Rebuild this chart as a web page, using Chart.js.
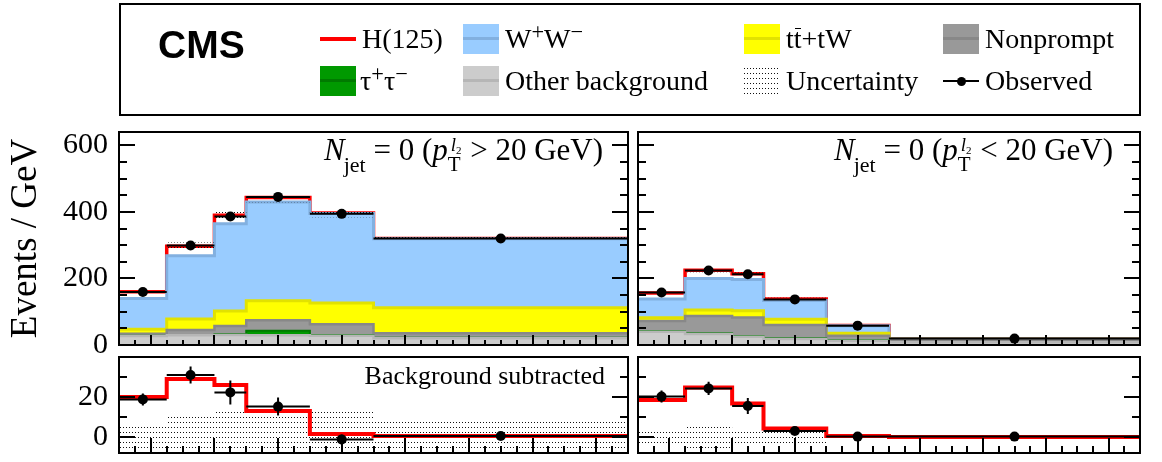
<!DOCTYPE html>
<html>
<head>
<meta charset="utf-8">
<title>m_ll distributions, N_jet = 0</title>
<script src="https://cdn.jsdelivr.net/npm/chart.js@4.4.1/dist/chart.umd.min.js"></script>
<style>
  html, body { margin: 0; padding: 0; background: #fff; }
  #fig { position: relative; width: 1162px; height: 462px; overflow: hidden; background: #fff;
         font-family: "Liberation Serif", "Times New Roman", serif; color: #000; }
  #fig canvas.plot { position: absolute; left: 0; top: 0; }
  .abs { position: absolute; white-space: nowrap; line-height: 1; }
  #legendBox { position: absolute; left: 119px; top: 3px; width: 1022px; height: 113px;
               border: 2px solid #000; box-sizing: border-box; }
  #cms { font-family: "Liberation Sans", Arial, sans-serif; font-weight: bold; font-size: 39px; left: 158px; top: 25px; }
  .legText { font-size: 28px; }
  .legText sup { font-size: 0.8em; line-height: 0; vertical-align: 0.4em; }
  .tbar { position: relative; }
  .tbar::before { content: ""; position: absolute; left: 1px; right: 1px; top: 5px; border-top: 1.5px solid #000; }
  .swatch { position: absolute; width: 36px; height: 30px; }
  .swatch .mid { position: absolute; left: 0; right: 0; top: 13px; height: 3px; }
  .ann { font-size: 31px; }
  .ann .jet { font-size: 22px; position: relative; top: 12px; margin-left: -1px; }
  .ann .subT { font-size: 21px; position: relative; top: 11px; }
  .ann .supL { font-size: 19px; position: relative; top: -9px; margin-left: -10px; margin-right: 1px; }
  .ann .supL span { font-size: 11px; position: relative; top: 3px; }
  #bgsub { font-size: 26px; }
</style>
</head>
<body>
<div id="fig">
  <canvas class="plot" id="mainHi" width="1162" height="462"></canvas>
  <canvas class="plot" id="mainLo" width="1162" height="462"></canvas>
  <canvas class="plot" id="subHi" width="1162" height="462"></canvas>
  <canvas class="plot" id="subLo" width="1162" height="462"></canvas>
  <div id="legendBox"></div>
  <div class="abs" id="cms">CMS</div>
  <div id="legendItems"></div>
  <div class="abs ann" style="right:559px; top:134px"><i>N</i><span class="jet">jet</span> = 0 (<i>p</i><span class="subT">T</span><span class="supL"><i>l</i><span>2</span></span> &gt; 20 GeV)</div>
  <div class="abs ann" style="right:49px; top:134px"><i>N</i><span class="jet">jet</span> = 0 (<i>p</i><span class="subT">T</span><span class="supL"><i>l</i><span>2</span></span> &lt; 20 GeV)</div>
  <div class="abs" id="bgsub" style="right:557px; top:363px">Background subtracted</div>
</div>
<script>
// ---- binning (m_ll, GeV) ----
const binEdges = [10, 25, 40, 50, 70, 90, 170];

// ---- N_jet = 0, pT(l2) > 20 GeV : events / GeV ----
const hiPtOther      = [27, 29, 30, 29, 28, 20];
const hiPtTauTau     = [1, 1, 2, 14, 2, 2];
const hiPtNonprompt  = [6, 15, 25, 31, 32, 13];
const hiPtTop        = [13, 33, 45, 59, 64, 77];
const hiPtWW         = [93, 190, 262, 297, 269, 207.5];
const hiPtHiggs      = [20, 29, 26, 13, 1.5, 0.5];
const hiPtObserved   = [159, 299, 386, 445, 394, 320];
const hiPtObsError   = [3, 4.2, 6, 4.5, 2.5, 1];
const hiPtBkgUnc     = [6, 10.7, 13, 14, 13, 8.5];
const hiPtSubtracted = [18.8, 31, 22.3, 15.2, -1.2, 0.5];

// ---- N_jet = 0, pT(l2) < 20 GeV : events / GeV ----
const loPtOther      = [40, 33, 25, 18, 13, 8];
const loPtTauTau     = [2, 2, 2, 2, 2, 1];
const loPtNonprompt  = [30, 52, 56, 40, 13, 6];
const loPtTop        = [10, 18, 20, 17, 7, 2];
const loPtWW         = [56, 95, 94, 57, 23, 2];
const loPtHiggs      = [18.5, 24.7, 16.8, 4.3, 0.5, 0];
const loPtObserved   = [158, 224, 212.5, 137, 58.2, 19.2];
const loPtObsError   = [3, 3.3, 4, 1.5, 1, 0.5];
const loPtBkgUnc     = [3.8, 6, 3.8, 3.8, 1.8, 0.3];
const loPtSubtracted = [20.2, 24.3, 15.5, 3, 0.2, 0.2];

// ---- axis ticks ----
const mainYLabels = [0, 200, 400, 600];
const mainYMinor  = [50, 100, 150, 250, 300, 350, 450, 500, 550];
const subYLabels  = [0, 20];
const subYMinor   = [10, 30];
const xMajorTicks = [20, 40, 60, 80, 100, 120, 140, 160];
const xMinorStep  = 5;

// ---- styling ----
const PROC = {
  higgs:     { label: 'H(125)', line: '#ff0000' },
  ww:        { label: 'W<sup>+</sup>W<sup>\u2212</sup>', fill: '#99ccff', line: '#82b0e0' },
  top:       { label: 't<span class="tbar">t</span>+tW', fill: '#ffff00', line: '#e2e200' },
  nonprompt: { label: 'Nonprompt', fill: '#999999', line: '#888888' },
  tautau:    { label: '\u03c4<sup>+</sup>\u03c4<sup>\u2212</sup>', fill: '#009900', line: '#007a00' },
  other:     { label: 'Other background', fill: '#cccccc', line: '#b6b6b6' },
  unc:       { label: 'Uncertainty' },
  obs:       { label: 'Observed' }
};

const W = 1162, H = 462;
const AREAS = {
  mainHi: { left: 119, right: 628,  top: 132, bottom: 345 },
  mainLo: { left: 638, right: 1140, top: 132, bottom: 345 },
  subHi:  { left: 119, right: 628,  top: 357, bottom: 453 },
  subLo:  { left: 638, right: 1140, top: 357, bottom: 453 }
};
const SERIF = '"Liberation Serif", "Times New Roman", serif';

const nBins = binEdges.length - 1;
const binCenters = binEdges.slice(0, -1).map((e, i) => (e + binEdges[i + 1]) / 2);

function stepData(vals) {
  return binEdges.map((e, i) => ({ x: e, y: vals[Math.min(i, nBins - 1)] }));
}
function runningSum(layers) {
  let run = new Array(nBins).fill(0);
  return layers.map(l => (run = run.map((r, i) => r + l[i])));
}
function dotPattern(ctx) {
  const tile = document.createElement('canvas');
  tile.width = 3; tile.height = 5;
  const t = tile.getContext('2d');
  t.fillStyle = '#111';
  t.fillRect(0, 2, 1, 1);
  return ctx.createPattern(tile, 'repeat');
}

function layerSet(vals, fill, line, width) {
  return {
    data: stepData(vals), stepped: 'before',
    fill: fill ? 'origin' : false,
    backgroundColor: fill || 'rgba(0,0,0,0)',
    borderColor: line, borderWidth: width,
    pointRadius: 0, borderCapStyle: 'butt'
  };
}
function bandSet(vals, pattern) {
  return {
    data: stepData(vals), stepped: 'before',
    fill: pattern ? '+1' : false,
    backgroundColor: pattern || 'rgba(0,0,0,0)',
    borderWidth: 0, borderColor: 'rgba(0,0,0,0)', pointRadius: 0
  };
}
function observedSet(vals) {
  return {
    data: binCenters.map((c, i) => ({ x: c, y: vals[i] })),
    showLine: false, pointRadius: 5, pointStyle: 'circle',
    pointBackgroundColor: '#000', pointBorderColor: '#000', pointBorderWidth: 0
  };
}

// frame + inward ticks on left/right/bottom
function framePlugin(yMajor, yMinor, yMajLen, yMinLen, xMajLen, xMinLen) {
  return {
    id: 'frame',
    afterDatasetsDraw(chart) {
      const { ctx, chartArea: a, scales: { x, y } } = chart;
      ctx.save();
      ctx.strokeStyle = '#000';
      ctx.lineWidth = 2;
      ctx.beginPath();
      const yTick = (v, len) => {
        const py = Math.round(y.getPixelForValue(v));
        ctx.moveTo(a.left, py); ctx.lineTo(a.left + len, py);
        ctx.moveTo(a.right, py); ctx.lineTo(a.right - len, py);
      };
      yMajor.forEach(v => yTick(v, yMajLen));
      yMinor.forEach(v => yTick(v, yMinLen));
      for (let v = x.min + xMinorStep; v < x.max; v += xMinorStep) {
        const len = xMajorTicks.includes(v) ? xMajLen : xMinLen;
        const px = Math.round(x.getPixelForValue(v));
        ctx.moveTo(px, a.bottom); ctx.lineTo(px, a.bottom - len);
      }
      ctx.stroke();
      ctx.strokeRect(a.left, a.top, a.right - a.left, a.bottom - a.top);
      ctx.restore();
    }
  };
}

// horizontal bin-width bars and vertical statistical bars for the observed points
function errorPlugin(obsIndex, vals, errs) {
  return {
    id: 'obsErrors',
    beforeDatasetDraw(chart, args) {
      if (args.index !== obsIndex) return;
      const { ctx, chartArea: a, scales: { x, y } } = chart;
      ctx.save();
      ctx.beginPath();
      ctx.rect(a.left, a.top, a.right - a.left, a.bottom - a.top);
      ctx.clip();
      ctx.strokeStyle = '#000';
      ctx.lineWidth = 2;
      ctx.beginPath();
      vals.forEach((v, i) => {
        const py = y.getPixelForValue(v);
        ctx.moveTo(x.getPixelForValue(binEdges[i]), py);
        ctx.lineTo(x.getPixelForValue(binEdges[i + 1]), py);
        const pc = x.getPixelForValue(binCenters[i]);
        ctx.moveTo(pc, y.getPixelForValue(v - errs[i]));
        ctx.lineTo(pc, y.getPixelForValue(v + errs[i]));
      });
      ctx.stroke();
      ctx.restore();
    }
  };
}

function baseOptions(area, withAxis, yMin, yMax, yLabels, yTitle) {
  const y = {
    type: 'linear', display: withAxis, min: yMin, max: yMax,
    afterBuildTicks: s => { s.ticks = yLabels.map(v => ({ value: v })); },
    grid: { display: false, drawTicks: false },
    border: { display: false },
    ticks: { padding: 11, color: '#000', autoSkip: false, font: { family: SERIF, size: 30 } },
    title: yTitle
      ? { display: true, text: yTitle, color: '#000', padding: { top: 4, bottom: 0 }, font: { family: SERIF, size: 37 } }
      : { display: false }
  };
  if (withAxis) {
    // fixed axis width; labels may overhang the plot area vertically
    y.afterFit = s => { s.width = area.left; s.paddingTop = 0; s.paddingBottom = 0; };
  }
  return {
    responsive: false, animation: false, devicePixelRatio: 1, events: [],
    layout: { padding: { left: withAxis ? 0 : area.left, right: W - area.right, top: area.top, bottom: H - area.bottom } },
    plugins: { legend: { display: false }, tooltip: { enabled: false } },
    scales: {
      x: { type: 'linear', display: false, min: binEdges[0], max: binEdges[nBins] },
      y
    }
  };
}

function mainPanel(id, withAxis, p) {
  const ctx = document.getElementById(id).getContext('2d');
  const pattern = dotPattern(ctx);
  const [cOther, cTau, cNP, cTop, cWW, cTot] =
    runningSum([p.other, p.tautau, p.nonprompt, p.top, p.ww, p.higgs]);
  // index 0 is drawn last (on top)
  const datasets = [
    observedSet(p.observed),
    bandSet(cTot.map((t, i) => t + p.unc[i]), pattern),
    bandSet(cTot.map((t, i) => t - p.unc[i]), null),
    layerSet(cOther, PROC.other.fill, PROC.other.line, 2.5),
    layerSet(cTau, PROC.tautau.fill, PROC.tautau.line, 2),
    layerSet(cNP, PROC.nonprompt.fill, PROC.nonprompt.line, 2.5),
    layerSet(cTop, PROC.top.fill, PROC.top.line, 3),
    layerSet(cWW, PROC.ww.fill, PROC.ww.line, 3),
    layerSet(cTot, null, PROC.higgs.line, 3.5)
  ];
  new Chart(ctx, {
    type: 'line',
    data: { datasets },
    options: baseOptions(AREAS[id], withAxis, 0, 640, mainYLabels, withAxis ? 'Events / GeV' : null),
    plugins: [framePlugin(mainYLabels, mainYMinor, 16, 8, 10, 5), errorPlugin(0, p.observed, p.err)]
  });
}

function subPanel(id, withAxis, p) {
  const ctx = document.getElementById(id).getContext('2d');
  const pattern = dotPattern(ctx);
  const datasets = [
    observedSet(p.subtracted),
    layerSet(p.higgs, null, PROC.higgs.line, 4),
    bandSet(p.unc.map(u => u), pattern),
    bandSet(p.unc.map(u => -u), null)
  ];
  new Chart(ctx, {
    type: 'line',
    data: { datasets },
    options: baseOptions(AREAS[id], withAxis, -8, 40, subYLabels, null),
    plugins: [framePlugin(subYLabels, subYMinor, 16, 8, 15, 7), errorPlugin(0, p.subtracted, p.err)]
  });
}

const hiPt = { other: hiPtOther, tautau: hiPtTauTau, nonprompt: hiPtNonprompt, top: hiPtTop, ww: hiPtWW,
               higgs: hiPtHiggs, observed: hiPtObserved, err: hiPtObsError, unc: hiPtBkgUnc, subtracted: hiPtSubtracted };
const loPt = { other: loPtOther, tautau: loPtTauTau, nonprompt: loPtNonprompt, top: loPtTop, ww: loPtWW,
               higgs: loPtHiggs, observed: loPtObserved, err: loPtObsError, unc: loPtBkgUnc, subtracted: loPtSubtracted };

mainPanel('mainHi', true, hiPt);
mainPanel('mainLo', false, loPt);
subPanel('subHi', true, hiPt);
subPanel('subLo', false, loPt);

// ---- legend ----
const legendLayout = [
  { key: 'higgs',     x: 320, row: 0, tx: 362 },
  { key: 'ww',        x: 463, row: 0, tx: 505 },
  { key: 'top',       x: 744, row: 0, tx: 786 },
  { key: 'nonprompt', x: 943, row: 0, tx: 985 },
  { key: 'tautau',    x: 320, row: 1, tx: 360 },
  { key: 'other',     x: 463, row: 1, tx: 505 },
  { key: 'unc',       x: 744, row: 1, tx: 786 },
  { key: 'obs',       x: 943, row: 1, tx: 985 }
];
const rowSwatchTop = [24, 66];
const rowTextTop = [24.8, 67.2];
const holder = document.getElementById('legendItems');
legendLayout.forEach(item => {
  const proc = PROC[item.key];
  const top = rowSwatchTop[item.row];
  const cy = top + 15;
  if (item.key === 'higgs') {
    const ln = document.createElement('div');
    ln.style.cssText = `position:absolute;left:${item.x}px;top:${cy - 2}px;width:36px;height:3.5px;background:${proc.line}`;
    holder.appendChild(ln);
  } else if (item.key === 'unc') {
    const c = document.createElement('canvas');
    c.width = 36; c.height = 30;
    c.style.cssText = `position:absolute;left:${item.x}px;top:${top}px`;
    const cx = c.getContext('2d');
    cx.fillStyle = dotPattern(cx);
    cx.fillRect(0, 0, 36, 30);
    holder.appendChild(c);
  } else if (item.key === 'obs') {
    const ln = document.createElement('div');
    ln.style.cssText = `position:absolute;left:${item.x}px;top:${cy - 1}px;width:36px;height:2px;background:#000`;
    const dot = document.createElement('div');
    dot.style.cssText = `position:absolute;left:${item.x + 13.5}px;top:${cy - 4.5}px;width:9px;height:9px;border-radius:50%;background:#000`;
    holder.appendChild(ln); holder.appendChild(dot);
  } else {
    const sw = document.createElement('div');
    sw.className = 'swatch';
    sw.style.cssText = `left:${item.x}px;top:${top}px;background:${proc.fill}`;
    const mid = document.createElement('div');
    mid.className = 'mid';
    mid.style.background = proc.line;
    sw.appendChild(mid);
    holder.appendChild(sw);
  }
  const t = document.createElement('div');
  t.className = 'abs legText';
  t.style.left = item.tx + 'px';
  t.style.top = rowTextTop[item.row] + 'px';
  t.innerHTML = proc.label;
  holder.appendChild(t);
});
</script>
</body>
</html>
